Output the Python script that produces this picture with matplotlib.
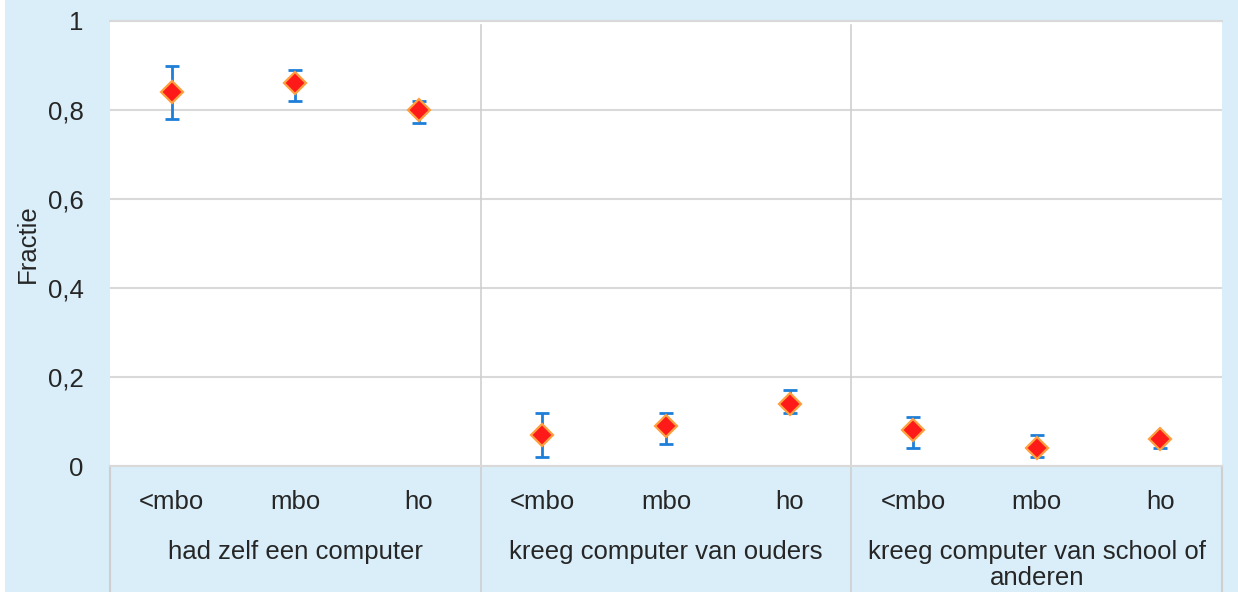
import matplotlib
matplotlib.use("Agg")
import matplotlib.pyplot as plt
import matplotlib.transforms as mtransforms
from matplotlib.lines import Line2D
from matplotlib.patches import Rectangle

plt.rcParams['font.family'] = ['Liberation Sans', 'DejaVu Sans']

groups = ["had zelf een computer", "kreeg computer van ouders", "kreeg computer van school of\nanderen"]
levels = ["<mbo", "mbo", "ho"]
values = [0.84, 0.86, 0.80, 0.07, 0.09, 0.14, 0.08, 0.04, 0.06]
upper = [0.90, 0.89, 0.82, 0.12, 0.12, 0.17, 0.11, 0.07, 0.07]
lower = [0.78, 0.82, 0.77, 0.02, 0.05, 0.12, 0.04, 0.02, 0.04]
yticks = [0, 0.2, 0.4, 0.6, 0.8, 1]
ytick_labels = ["0", "0,2", "0,4", "0,6", "0,8", "1"]

W, H = 1238, 592
bg = "#D9EEF9"
txt = "#262626"
grid = "#D9D9D9"
FS = 18.5

fig = plt.figure(figsize=(W / 100, H / 100), dpi=100, facecolor=bg)
fig.patches.append(Rectangle((0, 0), 5 / W, 1, transform=fig.transFigure,
                             facecolor="white", edgecolor="none"))
x0, x1, ytop, ybot = 110, 1222, 21, 466
ax = fig.add_axes([x0 / W, (H - ybot) / H, (x1 - x0) / W, (ybot - ytop) / H])
ax.set_facecolor("white")

n = len(values)
xs = list(range(n))
ax.set_xlim(-0.5, n - 0.5)
ax.set_ylim(0, 1)

for s in ["left", "right"]:
    ax.spines[s].set_visible(False)
ax.spines["top"].set_color(grid)
ax.spines["bottom"].set_color(grid)
ax.spines["top"].set_linewidth(1.5)
ax.spines["bottom"].set_linewidth(1.5)

ax.set_yticks(yticks)
ax.set_yticklabels(ytick_labels, fontsize=FS, color=txt)
ax.yaxis.grid(True, color=grid, linewidth=1.5)
ax.set_axisbelow(True)
ax.tick_params(axis="y", length=0, pad=19)
ax.set_ylabel("Fractie", fontsize=FS, color=txt, labelpad=6)

ax.set_xticks(xs)
ax.set_xticklabels(levels * len(groups), fontsize=FS, color=txt)
ax.tick_params(axis="x", length=0, pad=17)

# separators
trans = mtransforms.blended_transform_factory(ax.transData, ax.transAxes)
for b in [2.5, 5.5]:
    ax.add_line(Line2D([b, b], [-0.3, 0.99], transform=trans, color="#CFCFCF", lw=1.2, clip_on=False))
# label area borders
for bx in [-0.5, n - 0.5]:
    ax.add_line(Line2D([bx, bx], [-0.3, 0.0], transform=trans, color="#CFCFCF", lw=1.5, clip_on=False))

# group labels
for i, g in enumerate(groups):
    ax.text(3 * i + 1, -0.166, g, transform=trans, ha="center", va="top",
            fontsize=FS, color=txt, linespacing=1.1)

yerr = [[v - l for v, l in zip(values, lower)], [u - v for u, v in zip(upper, values)]]
ax.errorbar(xs, values, yerr=yerr, fmt="none", ecolor="#1E7FD8", elinewidth=2,
            capsize=5.2, capthick=2, zorder=3)
ax.plot(xs, values, linestyle="none", marker="D", markersize=11.5,
        markerfacecolor="#FF1A1A", markeredgecolor="#FFA040", markeredgewidth=1.6, zorder=4)

fig.savefig("out.png", dpi=100, facecolor=bg)
